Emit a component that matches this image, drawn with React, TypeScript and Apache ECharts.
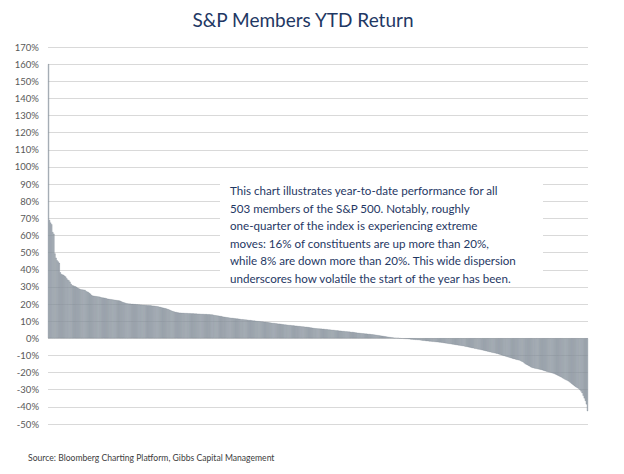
import React, { useEffect, useRef } from "react";
import * as echarts from "echarts";

// Y-axis tick range (percent)
const yTicks = { min: -50, max: 170, step: 10 };

// YTD returns (%) of the 503 S&P 500 members, sorted descending
const leaders = [
  160, 69, 67.5, 66.5, 62, 61, 49.5, 47, 45.5, 44.8, 44, 38.5, 37.5, 37.2, 37, 36.5, 36, 35, 34.2, 33.8,
  33, 31.8, 31, 30.8, 30.5, 30.3, 30, 29.5, 29.2, 28.9, 28.6, 28.5, 28.4, 28.3, 28.2, 27.6, 27.2, 27, 26.5, 26,
  25.3,
];
const strongGainers = [
  24.9, 24.8, 24.7, 24.6, 24.5, 24.4, 24.3, 24.2,
  23.9, 23.8, 23.7, 23.6, 23.5, 23.3,
  23.1, 23.0, 22.9, 22.8, 22.7, 22.6, 22.5, 22.4, 22.3,
  22.2, 22.1, 22.0, 21.8, 21.5,
  21.2, 21.0, 20.8, 20.6, 20.4,
  20.3, 20.2, 20.2, 20.1, 20.1, 20.0, 19.9, 19.9, 19.8, 19.8, 19.7, 19.7, 19.6, 19.6, 19.5, 19.5, 19.4, 19.4,
  19.3, 19.3, 19.2, 19.2, 19.1, 19.0, 19.0,
  18.9, 18.8, 18.7, 18.6, 18.4, 18.3, 18.1, 17.9, 17.8, 17.6, 17.5,
  17.3, 17.1, 16.9, 16.6, 16.3, 16.0, 15.8, 15.6, 15.4, 15.3, 15.1, 15.0,
];
const moderateGainers = [
  14.9, 14.9, 14.8, 14.8, 14.8, 14.7, 14.7, 14.7, 14.6, 14.6, 14.6, 14.5, 14.5, 14.5, 14.4, 14.4, 14.4, 14.3,
  14.3, 14.3, 14.2, 14.2, 14.2, 14.1, 14.1, 14.1, 14.0, 14.0, 14.0, 13.9, 13.9, 13.8,
  13.6, 13.5, 13.4, 13.3, 13.2, 13.1, 13.0,
  12.9, 12.7, 12.6, 12.5, 12.4, 12.3, 12.2, 12.1, 12.0, 11.9, 11.9, 11.8, 11.7, 11.6, 11.5, 11.5, 11.4, 11.3,
  11.2, 11.1, 11.1, 11.0, 10.9, 10.9, 10.8,
  10.7, 10.6, 10.6, 10.5, 10.4, 10.3, 10.3, 10.2, 10.1, 10.0, 10.0, 9.9, 9.8, 9.8, 9.7, 9.6, 9.6, 9.5, 9.4,
  9.3, 9.2, 9.1, 9.0, 8.9, 8.9, 8.8, 8.7, 8.6, 8.5, 8.5, 8.4, 8.3, 8.2, 8.1, 8.0, 8.0, 7.9, 7.8, 7.7, 7.7, 7.6,
];
const smallGainers = [
  7.5, 7.5, 7.4, 7.3, 7.3, 7.2, 7.1, 7.1, 7.0, 6.9, 6.9, 6.8, 6.7, 6.7, 6.6, 6.5, 6.4, 6.3, 6.2, 6.1, 6.0,
  5.9, 5.8, 5.8, 5.7, 5.7, 5.6, 5.6, 5.5, 5.5, 5.4, 5.3, 5.3, 5.2, 5.1, 5.1, 5.0, 4.9, 4.9, 4.8,
  4.7, 4.6, 4.6, 4.5, 4.4, 4.4, 4.3, 4.2, 4.2, 4.1, 4.0, 4.0, 3.9, 3.9, 3.8, 3.7, 3.7, 3.6, 3.5,
  3.4, 3.3, 3.2, 3.2, 3.1, 3.0, 2.9, 2.9, 2.8, 2.7, 2.7, 2.6, 2.5, 2.5, 2.4, 2.3, 2.3, 2.2, 2.1,
  2.0, 1.9, 1.8, 1.7, 1.6, 1.5, 1.4, 1.3, 1.2, 1.1, 1.0, 0.9, 0.8, 0.7, 0.6, 0.5, 0.4, 0.3, 0.3, 0.2, 0.1, 0.1,
];
const smallDecliners = [
  -0.1, -0.1, -0.2, -0.2, -0.3, -0.3, -0.4, -0.4, -0.5, -0.5,
  -0.6, -0.7, -0.7, -0.8, -0.8, -0.9, -0.9, -1.0, -1.0, -1.1, -1.2,
  -1.3, -1.4, -1.4, -1.5, -1.6, -1.6, -1.7, -1.8, -1.8, -1.9, -2.0, -2.0, -2.1, -2.2, -2.2, -2.3, -2.4, -2.4, -2.5,
  -2.6, -2.7, -2.8, -2.9, -3.0, -3.1, -3.2, -3.3, -3.4, -3.5, -3.6, -3.7, -3.8, -3.9, -4.0, -4.1, -4.2, -4.3, -4.4,
  -4.5, -4.6, -4.8, -4.9, -5.0, -5.2, -5.3, -5.4, -5.6, -5.7, -5.8, -6.0, -6.1, -6.2, -6.4, -6.5, -6.6, -6.8, -6.9,
];
const laggards = [
  -7.1, -7.2, -7.4, -7.5, -7.7, -7.8, -8.0, -8.1, -8.3, -8.4, -8.6, -8.7, -8.9, -9.0, -9.2, -9.4,
  -9.6, -9.8, -10.0, -10.2, -10.4, -10.6, -10.8, -11.0, -11.2,
  -11.4, -11.6, -11.8, -12.0, -12.1, -12.3, -12.5, -12.6, -12.8, -12.9,
  -13.3, -13.6, -13.9,
  -14.5, -15.0, -15.3, -15.6, -16.0, -16.3, -16.7,
  -17.0, -17.2, -17.4,
  -17.6, -17.7, -17.8, -18.0, -18.1, -18.3, -18.4, -18.6, -18.8,
  -19.0, -19.2, -19.4, -19.6, -19.8, -19.9, -20.1, -20.3, -20.5, -20.7,
  -21.0, -21.3, -21.6, -21.9, -22.2, -22.5, -22.8,
  -23.3, -23.6, -24.0, -24.3, -24.6, -25.0, -25.4,
  -25.9, -26.4, -26.9, -27.4, -27.9,
  -28.3, -28.7, -29.1, -29.5,
  -30.2, -31.0, -32.0,
  -33.5, -35.0,
  -36.5, -38.5,
  -42.5,
];

const titleText = "S&P Members YTD Return";
const noteLines = [
  "This chart illustrates year-to-date performance for all",
  "503 members of the S&P 500. Notably, roughly",
  "one-quarter of the index is experiencing extreme",
  "moves: 16% of constituents are up more than 20%,",
  "while 8% are down more than 20%. This wide dispersion",
  "underscores how volatile the start of the year has been.",
];
const sourceText = "Source: Bloomberg Charting Platform, Gibbs Capital Management";

export default function App() {
  const ref = useRef<HTMLDivElement>(null);

  useEffect(() => {
    if (!ref.current) return;
    const chart = echarts.init(ref.current, undefined, { renderer: "svg" });
    const values = [
      ...leaders,
      ...strongGainers,
      ...moderateGainers,
      ...smallGainers,
      ...smallDecliners,
      ...laggards,
    ];
    const categories = values.map((_, i) => String(i + 1));
    const font = "Lato, 'Open Sans', sans-serif";

    chart.setOption({
      animation: false,
      backgroundColor: "#ffffff",
      grid: { left: 48, right: 36, top: 47, bottom: 50, containLabel: false },
      xAxis: {
        type: "category",
        data: categories,
        axisLine: { show: false },
        axisTick: { show: false },
        axisLabel: { show: false },
        splitLine: { show: false },
      },
      yAxis: {
        type: "value",
        min: yTicks.min,
        max: yTicks.max,
        interval: yTicks.step,
        axisLine: { show: false },
        axisTick: { show: false },
        axisLabel: {
          formatter: "{value}%",
          color: "#595959",
          fontSize: 9.5,
          fontFamily: font,
          margin: 9,
        },
        splitLine: { lineStyle: { color: "#D9D9D9", width: 1 } },
      },
      series: [
        {
          type: "bar",
          data: values,
          barCategoryGap: "10%",
          itemStyle: { color: "#BAC1C8", borderColor: "#5A6672", borderWidth: 0.3 },
        },
      ],
      graphic: [
        {
          type: "text",
          x: 303,
          y: 10,
          style: {
            text: titleText,
            fill: "#1F3864",
            font: `19px ${font}`,
            textAlign: "center",
          },
        },
        {
          type: "rect",
          shape: { x: 220, y: 175, width: 323, height: 111 },
          style: { fill: "#ffffff" },
          z: 10,
        },
        {
          type: "text",
          x: 230,
          y: 182,
          z: 11,
          style: {
            text: noteLines.join("\n"),
            fill: "#1F3864",
            font: `11.6px ${font}`,
            lineHeight: 17.5,
          },
        },
        {
          type: "text",
          x: 28,
          y: 453,
          style: {
            text: sourceText,
            fill: "#404040",
            font: `8.6px ${font}`,
          },
        },
      ],
    });
    return () => chart.dispose();
  }, []);

  return (
    <div
      ref={ref}
      style={{ position: "fixed", left: 0, top: 0, width: 624, height: 474, background: "#fff" }}
    />
  );
}
